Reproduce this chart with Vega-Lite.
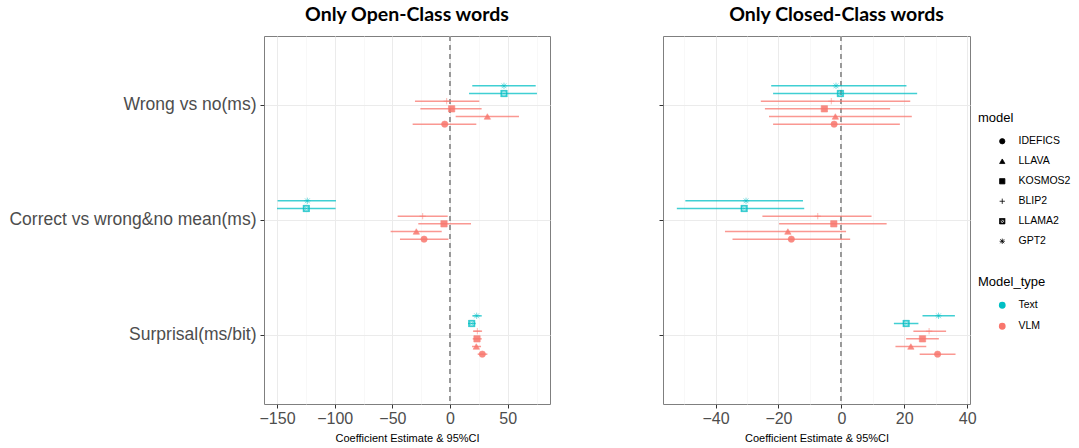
{
  "$schema": "https://vega.github.io/schema/vega-lite/v6.json",
  "padding": {"left": 8, "top": 4, "right": 5, "bottom": 4},
  "background": "white",
  "config": {
    "font": "Liberation Sans",
    "view": {"stroke": "#7f7f7f", "strokeWidth": 1},
    "axis": {"domain": false, "tickColor": "#333333", "tickSize": 4, "tickWidth": 1, "labelColor": "#4d4d4d", "labelFont": "Liberation Sans", "titleFont": "Liberation Sans", "titleFontWeight": "normal", "titleColor": "#000000", "labelLimit": 400, "labelOverlap": false},
    "legend": {"titleFont": "Liberation Sans", "labelFont": "Liberation Sans", "titleFontWeight": "normal"},
    "title": {"font": "Lato", "fontWeight": "bold", "fontSize": 19.5, "color": "#000000"}
  },
  "data": {"values": [
    {"p": "Open", "m": "Wrong vs no(ms)", "model": "GPT2", "Model_type": "Text", "est": 46.8, "lo": 19.3, "hi": 74.3},
    {"p": "Open", "m": "Wrong vs no(ms)", "model": "LLAMA2", "Model_type": "Text", "est": 46.8, "lo": 16.5, "hi": 75.4},
    {"p": "Open", "m": "Wrong vs no(ms)", "model": "BLIP2", "Model_type": "VLM", "est": -2.9, "lo": -30.4, "hi": 25.4},
    {"p": "Open", "m": "Wrong vs no(ms)", "model": "KOSMOS2", "Model_type": "VLM", "est": 1.4, "lo": -25.7, "hi": 27.4},
    {"p": "Open", "m": "Wrong vs no(ms)", "model": "LLAVA", "Model_type": "VLM", "est": 32.4, "lo": 4.9, "hi": 59.8},
    {"p": "Open", "m": "Wrong vs no(ms)", "model": "IDEFICS", "Model_type": "VLM", "est": -4.6, "lo": -32.4, "hi": 22.8},
    {"p": "Open", "m": "Correct vs wrong&no mean(ms)", "model": "GPT2", "Model_type": "Text", "est": -123.7, "lo": -149.5, "hi": -98.9},
    {"p": "Open", "m": "Correct vs wrong&no mean(ms)", "model": "LLAMA2", "Model_type": "Text", "est": -124.6, "lo": -150.0, "hi": -99.2},
    {"p": "Open", "m": "Correct vs wrong&no mean(ms)", "model": "BLIP2", "Model_type": "VLM", "est": -23.7, "lo": -45.4, "hi": -2.0},
    {"p": "Open", "m": "Correct vs wrong&no mean(ms)", "model": "KOSMOS2", "Model_type": "VLM", "est": -5.2, "lo": -27.5, "hi": 18.2},
    {"p": "Open", "m": "Correct vs wrong&no mean(ms)", "model": "LLAVA", "Model_type": "VLM", "est": -29.2, "lo": -51.5, "hi": -7.2},
    {"p": "Open", "m": "Correct vs wrong&no mean(ms)", "model": "IDEFICS", "Model_type": "VLM", "est": -22.5, "lo": -43.4, "hi": -1.4},
    {"p": "Open", "m": "Surprisal(ms/bit)", "model": "GPT2", "Model_type": "Text", "est": 23.1, "lo": 19.4, "hi": 27.5},
    {"p": "Open", "m": "Surprisal(ms/bit)", "model": "LLAMA2", "Model_type": "Text", "est": 18.8, "lo": 15.6, "hi": 22.3},
    {"p": "Open", "m": "Surprisal(ms/bit)", "model": "BLIP2", "Model_type": "VLM", "est": 23.7, "lo": 19.9, "hi": 27.8},
    {"p": "Open", "m": "Surprisal(ms/bit)", "model": "KOSMOS2", "Model_type": "VLM", "est": 23.4, "lo": 19.7, "hi": 27.5},
    {"p": "Open", "m": "Surprisal(ms/bit)", "model": "LLAVA", "Model_type": "VLM", "est": 22.8, "lo": 19.1, "hi": 26.9},
    {"p": "Open", "m": "Surprisal(ms/bit)", "model": "IDEFICS", "Model_type": "VLM", "est": 28.0, "lo": 24.0, "hi": 32.4},
    {"p": "Closed", "m": "Wrong vs no(ms)", "model": "GPT2", "Model_type": "Text", "est": -1.7, "lo": -22.3, "hi": 20.7},
    {"p": "Closed", "m": "Wrong vs no(ms)", "model": "LLAMA2", "Model_type": "Text", "est": -0.3, "lo": -21.7, "hi": 24.1},
    {"p": "Closed", "m": "Wrong vs no(ms)", "model": "BLIP2", "Model_type": "VLM", "est": -3.2, "lo": -25.6, "hi": 21.9},
    {"p": "Closed", "m": "Wrong vs no(ms)", "model": "KOSMOS2", "Model_type": "VLM", "est": -5.4, "lo": -24.3, "hi": 15.5},
    {"p": "Closed", "m": "Wrong vs no(ms)", "model": "LLAVA", "Model_type": "VLM", "est": -1.9, "lo": -23.0, "hi": 22.4},
    {"p": "Closed", "m": "Wrong vs no(ms)", "model": "IDEFICS", "Model_type": "VLM", "est": -2.3, "lo": -21.7, "hi": 18.6},
    {"p": "Closed", "m": "Correct vs wrong&no mean(ms)", "model": "GPT2", "Model_type": "Text", "est": -30.3, "lo": -49.6, "hi": -12.2},
    {"p": "Closed", "m": "Correct vs wrong&no mean(ms)", "model": "LLAMA2", "Model_type": "Text", "est": -30.9, "lo": -52.3, "hi": -11.8},
    {"p": "Closed", "m": "Correct vs wrong&no mean(ms)", "model": "BLIP2", "Model_type": "VLM", "est": -7.5, "lo": -25.1, "hi": 9.6},
    {"p": "Closed", "m": "Correct vs wrong&no mean(ms)", "model": "KOSMOS2", "Model_type": "VLM", "est": -2.4, "lo": -19.8, "hi": 14.4},
    {"p": "Closed", "m": "Correct vs wrong&no mean(ms)", "model": "LLAVA", "Model_type": "VLM", "est": -17.0, "lo": -37.0, "hi": 1.5},
    {"p": "Closed", "m": "Correct vs wrong&no mean(ms)", "model": "IDEFICS", "Model_type": "VLM", "est": -15.9, "lo": -34.6, "hi": 2.8},
    {"p": "Closed", "m": "Surprisal(ms/bit)", "model": "GPT2", "Model_type": "Text", "est": 30.9, "lo": 25.8, "hi": 36.1},
    {"p": "Closed", "m": "Surprisal(ms/bit)", "model": "LLAMA2", "Model_type": "Text", "est": 20.6, "lo": 16.7, "hi": 24.5},
    {"p": "Closed", "m": "Surprisal(ms/bit)", "model": "BLIP2", "Model_type": "VLM", "est": 27.9, "lo": 22.9, "hi": 33.3},
    {"p": "Closed", "m": "Surprisal(ms/bit)", "model": "KOSMOS2", "Model_type": "VLM", "est": 25.8, "lo": 20.6, "hi": 31.0},
    {"p": "Closed", "m": "Surprisal(ms/bit)", "model": "LLAVA", "Model_type": "VLM", "est": 22.1, "lo": 17.2, "hi": 27.0},
    {"p": "Closed", "m": "Surprisal(ms/bit)", "model": "IDEFICS", "Model_type": "VLM", "est": 30.6, "lo": 24.9, "hi": 36.3}
  ]},
  "spacing": 107,
  "resolve": {"scale": {"x": "independent", "y": "shared", "fill": "shared", "stroke": "shared", "shape": "shared"}, "axis": {"y": "independent", "x": "independent"}},
  "hconcat": [
    {
      "width": 286, "height": 368,
      "title": {"text": "Only Open-Class words", "frame": "group", "anchor": "middle", "offset": 10, "dx": 0},
      "transform": [{"filter": "datum.p === 'Open'"}],
      "layer": [
        {
          "mark": {"type": "rule", "strokeDash": [5, 4], "color": "#9a9a9a", "strokeWidth": 1.3},
          "encoding": {"x": {"datum": 0, "type": "quantitative", "scale": {"domain": [-161.3, 86.7], "nice": false, "zero": false}, "axis": {"title": "Coefficient Estimate & 95%CI", "titleFontSize": 11, "titlePadding": 6, "labelFontSize": 16, "labelPadding": 2, "tickCount": 100, "values": [-150, -125, -100, -75, -50, -25, 0, 25, 50, 75], "labelExpr": "datum.value % 50 === 0 ? datum.label : ''", "grid": true, "gridColor": {"condition": {"test": "datum.value % 50 !== 0", "value": "#f5f5f5"}, "value": "#ebebeb"}, "gridWidth": {"condition": {"test": "datum.value % 50 !== 0", "value": 0.7}, "value": 1}, "tickSize": {"condition": {"test": "datum.value % 50 !== 0", "value": 0}, "value": 4}}}}
        },
        {
          "mark": {"type": "rule", "strokeWidth": 1.5, "opacity": 0.75},
          "encoding": {
            "y": {"field": "m", "type": "nominal", "sort": ["Wrong vs no(ms)", "Correct vs wrong&no mean(ms)", "Surprisal(ms/bit)"], "scale": {"paddingInner": 0.6, "paddingOuter": 0.4}, "axis": {"title": null, "labelFontSize": 17.5, "labelPadding": 4, "bandPosition": 0.5, "gridColor": "#ebebeb", "grid": true, "gridWidth": 1}},
            "yOffset": {"field": "model", "type": "nominal", "sort": ["GPT2", "LLAMA2", "BLIP2", "KOSMOS2", "LLAVA", "IDEFICS"], "scale": {"paddingInner": 0, "paddingOuter": 0}},
            "x": {"field": "lo", "type": "quantitative", "axis": {"title": "Coefficient Estimate & 95%CI"}},
            "x2": {"field": "hi"},
            "stroke": {"field": "Model_type", "type": "nominal", "scale": {"domain": ["Text", "VLM"], "range": ["#00BFC4", "#F8766D"]}, "legend": {"title": "Model_type", "orient": "none", "legendX": 714, "legendY": 240, "titleFontSize": 13, "labelFontSize": 10.5, "symbolType": "circle", "symbolSize": 28, "symbolOffset": 19, "labelOffset": 11, "rowPadding": 9, "titlePadding": 11, "symbolOpacity": 1}}
          }
        },
        {
          "mark": {"type": "point", "filled": true, "size": 40, "strokeWidth": 0.6, "opacity": 0.85},
          "encoding": {
            "y": {"field": "m", "type": "nominal", "sort": ["Wrong vs no(ms)", "Correct vs wrong&no mean(ms)", "Surprisal(ms/bit)"]},
            "yOffset": {"field": "model", "type": "nominal", "sort": ["GPT2", "LLAMA2", "BLIP2", "KOSMOS2", "LLAVA", "IDEFICS"]},
            "x": {"field": "est", "type": "quantitative", "axis": {"title": "Coefficient Estimate & 95%CI"}},
            "fill": {"field": "Model_type", "type": "nominal", "scale": {"domain": ["Text", "VLM"], "range": ["#00BFC4", "#F8766D"]}, "legend": {"title": "Model_type", "orient": "none", "legendX": 714, "legendY": 240, "titleFontSize": 13, "labelFontSize": 10.5, "symbolType": "circle", "symbolSize": 28, "symbolOffset": 19, "labelOffset": 11, "rowPadding": 9, "titlePadding": 11, "symbolOpacity": 1}},
            "stroke": {"field": "Model_type", "type": "nominal", "legend": {"title": "Model_type", "orient": "none", "legendX": 714, "legendY": 240, "titleFontSize": 13, "labelFontSize": 10.5, "symbolType": "circle", "symbolSize": 28, "symbolOffset": 19, "labelOffset": 11, "rowPadding": 9, "titlePadding": 11, "symbolOpacity": 1}},
            "shape": {"field": "model", "type": "nominal", "scale": {"domain": ["IDEFICS", "LLAVA", "KOSMOS2", "BLIP2", "LLAMA2", "GPT2"], "range": ["circle", "triangle-up", "square", "M-1,0H1M0,-1V1", "M-1,-1H1V1H-1ZM-0.7,-0.7V0.7H0.7V-0.7ZM-1,-1L1,1M-1,1L1,-1", "M-1,0H1M0,-1V1M-0.75,-0.75L0.75,0.75M-0.75,0.75L0.75,-0.75"]}, "legend": {"title": "model", "orient": "none", "legendX": 714, "legendY": 76, "titleFontSize": 13, "labelFontSize": 10.5, "symbolSize": 28, "symbolOffset": 19, "labelOffset": 11, "rowPadding": 9, "titlePadding": 11, "symbolFillColor": "black", "symbolStrokeColor": "black", "symbolStrokeWidth": 0.8, "symbolOpacity": 1}}
          }
        }
      ]
    },
    {
      "width": 307, "height": 368,
      "title": {"text": "Only Closed-Class words", "frame": "group", "anchor": "middle", "offset": 10, "dx": 20},
      "transform": [{"filter": "datum.p === 'Closed'"}],
      "layer": [
        {
          "mark": {"type": "rule", "strokeDash": [5, 4], "color": "#9a9a9a", "strokeWidth": 1.3},
          "encoding": {"x": {"datum": 0, "type": "quantitative", "scale": {"domain": [-56.7, 40.9], "nice": false, "zero": false}, "axis": {"title": "Coefficient Estimate & 95%CI", "titleFontSize": 11, "titlePadding": 6, "labelFontSize": 16, "labelPadding": 2, "tickCount": 100, "values": [-50, -40, -30, -20, -10, 0, 10, 20, 30, 40], "labelExpr": "datum.value % 20 === 0 ? datum.label : ''", "grid": true, "gridColor": {"condition": {"test": "datum.value % 20 !== 0", "value": "#f5f5f5"}, "value": "#ebebeb"}, "gridWidth": {"condition": {"test": "datum.value % 20 !== 0", "value": 0.7}, "value": 1}, "tickSize": {"condition": {"test": "datum.value % 20 !== 0", "value": 0}, "value": 4}}}}
        },
        {
          "mark": {"type": "rule", "strokeWidth": 1.5, "opacity": 0.75},
          "encoding": {
            "y": {"field": "m", "type": "nominal", "sort": ["Wrong vs no(ms)", "Correct vs wrong&no mean(ms)", "Surprisal(ms/bit)"], "axis": {"title": null, "labels": false, "bandPosition": 0.5, "gridColor": "#ebebeb", "grid": true, "gridWidth": 1}},
            "yOffset": {"field": "model", "type": "nominal", "sort": ["GPT2", "LLAMA2", "BLIP2", "KOSMOS2", "LLAVA", "IDEFICS"]},
            "x": {"field": "lo", "type": "quantitative", "axis": {"title": "Coefficient Estimate & 95%CI"}},
            "x2": {"field": "hi"},
            "stroke": {"field": "Model_type", "type": "nominal", "legend": {"title": "Model_type", "orient": "none", "legendX": 714, "legendY": 240, "titleFontSize": 13, "labelFontSize": 10.5, "symbolType": "circle", "symbolSize": 28, "symbolOffset": 19, "labelOffset": 11, "rowPadding": 9, "titlePadding": 11, "symbolOpacity": 1}}
          }
        },
        {
          "mark": {"type": "point", "filled": true, "size": 40, "strokeWidth": 0.6, "opacity": 0.85},
          "encoding": {
            "y": {"field": "m", "type": "nominal", "sort": ["Wrong vs no(ms)", "Correct vs wrong&no mean(ms)", "Surprisal(ms/bit)"]},
            "yOffset": {"field": "model", "type": "nominal", "sort": ["GPT2", "LLAMA2", "BLIP2", "KOSMOS2", "LLAVA", "IDEFICS"]},
            "x": {"field": "est", "type": "quantitative", "axis": {"title": "Coefficient Estimate & 95%CI"}},
            "fill": {"field": "Model_type", "type": "nominal", "legend": {"title": "Model_type", "orient": "none", "legendX": 714, "legendY": 240, "titleFontSize": 13, "labelFontSize": 10.5, "symbolType": "circle", "symbolSize": 28, "symbolOffset": 19, "labelOffset": 11, "rowPadding": 9, "titlePadding": 11, "symbolOpacity": 1}},
            "stroke": {"field": "Model_type", "type": "nominal", "legend": {"title": "Model_type", "orient": "none", "legendX": 714, "legendY": 240, "titleFontSize": 13, "labelFontSize": 10.5, "symbolType": "circle", "symbolSize": 28, "symbolOffset": 19, "labelOffset": 11, "rowPadding": 9, "titlePadding": 11, "symbolOpacity": 1}},
            "shape": {"field": "model", "type": "nominal", "legend": {"title": "model", "orient": "none", "legendX": 714, "legendY": 76, "titleFontSize": 13, "labelFontSize": 10.5, "symbolSize": 28, "symbolOffset": 19, "labelOffset": 11, "rowPadding": 9, "titlePadding": 11, "symbolFillColor": "black", "symbolStrokeColor": "black", "symbolStrokeWidth": 0.8, "symbolOpacity": 1}}
          }
        }
      ]
    }
  ]
}
